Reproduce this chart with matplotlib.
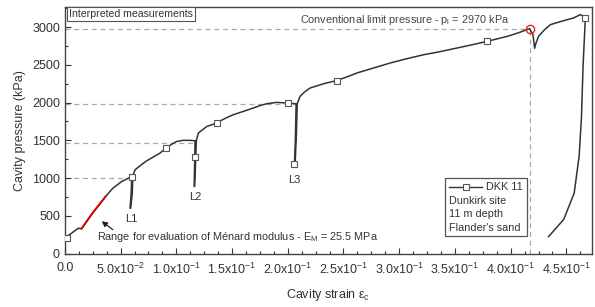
import numpy as np
import matplotlib
matplotlib.use('Agg')
import matplotlib.pyplot as plt
from matplotlib.ticker import MultipleLocator, FuncFormatter
from matplotlib.lines import Line2D
from matplotlib.offsetbox import AnchoredOffsetbox, VPacker, HPacker, TextArea, DrawingArea

plt.rcParams['font.family'] = ['Liberation Sans', 'DejaVu Sans']
plt.rcParams['mathtext.fontset'] = 'custom'
plt.rcParams['mathtext.rm'] = 'Liberation Sans'
plt.rcParams['mathtext.it'] = 'Liberation Sans'
plt.rcParams['mathtext.bf'] = 'Liberation Sans:bold'

# pressuremeter curve DKK 11 (strain, kPa)
strain = [0.0, 0.006, 0.012, 0.015, 0.025, 0.0365, 0.043, 0.051, 0.057, 0.060,
          0.0595, 0.0585, 0.0590, 0.0605, 0.061, 0.063, 0.068, 0.073, 0.080, 0.0853,
          0.0907, 0.096, 0.1003, 0.106, 0.112, 0.1168,
          0.1166, 0.1160, 0.1165, 0.1175, 0.118, 0.1198, 0.1273, 0.1362, 0.1386, 0.145,
          0.1512, 0.160, 0.169, 0.175, 0.181, 0.190, 0.200, 0.2075,
          0.2068, 0.2060, 0.2066, 0.2078, 0.2085, 0.211, 0.215, 0.220, 0.232, 0.244,
          0.256, 0.262, 0.275, 0.292, 0.305, 0.322, 0.335, 0.352, 0.365, 0.379,
          0.397, 0.408, 0.417, 0.420, 0.4215, 0.4225, 0.425, 0.430, 0.4356, 0.445,
          0.4565, 0.4625, 0.466, 0.467, 0.465, 0.4635, 0.4615, 0.457, 0.4475, 0.434]
pressure = [205, 270, 335, 330, 540, 755, 865, 955, 1000, 1010,
            800, 600, 600, 800, 1030, 1110, 1170, 1225, 1285, 1330,
            1398, 1450, 1485, 1500, 1500, 1495,
            1286, 890, 890, 1300, 1500, 1597, 1684, 1729, 1751, 1800,
            1840, 1883, 1928, 1960, 1985, 2003, 1994, 1985,
            1500, 1190, 1190, 1600, 1985, 2082, 2140, 2193, 2250, 2292,
            2357, 2392, 2450, 2525, 2575, 2635, 2670, 2724, 2765, 2812,
            2878, 2930, 2980, 2900, 2720, 2780, 2878, 2960, 3033, 3075,
            3122, 3166, 3140, 3120, 2500, 1800, 1300, 800, 450, 225]

# points carrying the square markers
mark_strain = [0.0015, 0.060, 0.0907, 0.1168, 0.1362, 0.200, 0.206, 0.244, 0.379, 0.467]
mark_pressure = [205, 1010, 1398, 1286, 1729, 1994, 1190, 2292, 2812, 3122]

# range used for Menard modulus
red_strain = [0.015, 0.025, 0.0365]
red_pressure = [330, 540, 755]

# interpreted levels
level_strain = [0.060, 0.1168, 0.2075, 0.417]
level_pressure = [1000, 1470, 1985, 2970]
pl_strain, pl = 0.417, 2970

loops = ['L1', 'L2', 'L3']
loop_strain = [0.0593, 0.1168, 0.2057]
loop_pressure = [460, 750, 975]

fig = plt.figure(figsize=(5.95, 3.07), dpi=100)
ax = fig.add_axes([0.109, 0.174, 0.886, 0.804])

col = '#333333'
for xs, ys in zip(level_strain, level_pressure):
    ax.plot([0, xs], [ys, ys], ls=(0, (4, 3)), color='#aaaaaa', lw=0.9, zorder=1)
ax.plot([pl_strain, pl_strain], [0, pl], ls=(0, (4, 3)), color='#aaaaaa', lw=0.9, zorder=1)

ax.plot(strain, pressure, color=col, lw=1.1, zorder=2)
ax.plot(red_strain, red_pressure, color='#e00000', lw=1.4, zorder=3)
ax.plot(mark_strain, mark_pressure, ls='none', marker='s', ms=5, mfc='white',
        mec='#555555', mew=0.8, zorder=4)
ax.plot([pl_strain], [pl], ls='none', marker='o', ms=6, mfc='none', mec='#ee2222',
        mew=1.0, zorder=5)

for lab, xs, ys in zip(loops, loop_strain, loop_pressure):
    ax.text(xs, ys, lab, ha='center', va='center', fontsize=8, color='#333333')

ax.text(0.004, 3170, 'Interpreted measurements', fontsize=7.6, color='#333333', va='center',
        bbox=dict(boxstyle='square,pad=0.2', fc='white', ec='#555555', lw=0.8))
ax.text(0.211, 3100, 'Conventional limit pressure - p$_l$ = 2970 kPa', fontsize=7.8,
        color='#444444', va='center')
ax.text(0.0285, 215, u'Range for evaluation of M\u00e9nard modulus - E$_M$ = 25.5 MPa',
        fontsize=7.8, color='#333333', va='center')
ax.annotate('', xy=(0.031, 450), xytext=(0.045, 295),
            arrowprops=dict(arrowstyle='-|>', color='#222222', lw=0.9, mutation_scale=8))

# legend box
da = DrawingArea(24, 8, 0, 0)
da.add_artist(Line2D([0, 24], [4, 4], color=col, lw=1.0))
da.add_artist(Line2D([12], [4], marker='s', ms=4, mfc='white', mec='#555555', mew=0.8))
tp = dict(fontsize=7.8, color='#333333')
rows = [HPacker(children=[da, TextArea('DKK 11', textprops=tp)], pad=0, sep=3, align='center'),
        TextArea('Dunkirk site', textprops=tp),
        TextArea('11 m depth', textprops=tp),
        TextArea("Flander's sand", textprops=tp)]
box = VPacker(children=rows, pad=0, sep=2.5, align='left')
anch = AnchoredOffsetbox(loc='lower left', child=box, pad=0.25, borderpad=0,
                         frameon=True, bbox_to_anchor=(0.722, 0.07),
                         bbox_transform=ax.transAxes)
anch.patch.set_edgecolor('#555555')
anch.patch.set_linewidth(0.9)
ax.add_artist(anch)

ax.set_xlim(0, 0.473)
ax.set_ylim(0, 3270)
ax.xaxis.set_major_locator(MultipleLocator(0.05))
ax.xaxis.set_minor_locator(MultipleLocator(0.0125))
ax.yaxis.set_major_locator(MultipleLocator(500))
ax.yaxis.set_minor_locator(MultipleLocator(250))


def fmt(v, pos):
    if abs(v) < 1e-9:
        return '0.0'
    if v < 0:
        return ''
    e = int(np.floor(np.log10(v) + 1e-9))
    m = v / 10 ** e
    return '%.1fx10$^{%d}$' % (m, e)


ax.xaxis.set_major_formatter(FuncFormatter(fmt))
ax.tick_params(which='both', direction='in', top=False, right=False,
               labelsize=9, colors='#333333')
ax.tick_params(which='major', length=4, width=0.8)
ax.tick_params(axis='x', which='major', pad=6)
ax.tick_params(which='minor', length=2.5, width=0.8)
for s in ax.spines.values():
    s.set_color('#444444')
    s.set_linewidth(1.0)

ax.set_xlabel(u'Cavity strain \u03b5$_\\mathrm{c}$', fontsize=9, color='#333333', labelpad=7)
ax.set_ylabel('Cavity pressure (kPa)', fontsize=9, color='#333333', labelpad=4)

fig.savefig('out.png', dpi=100)
